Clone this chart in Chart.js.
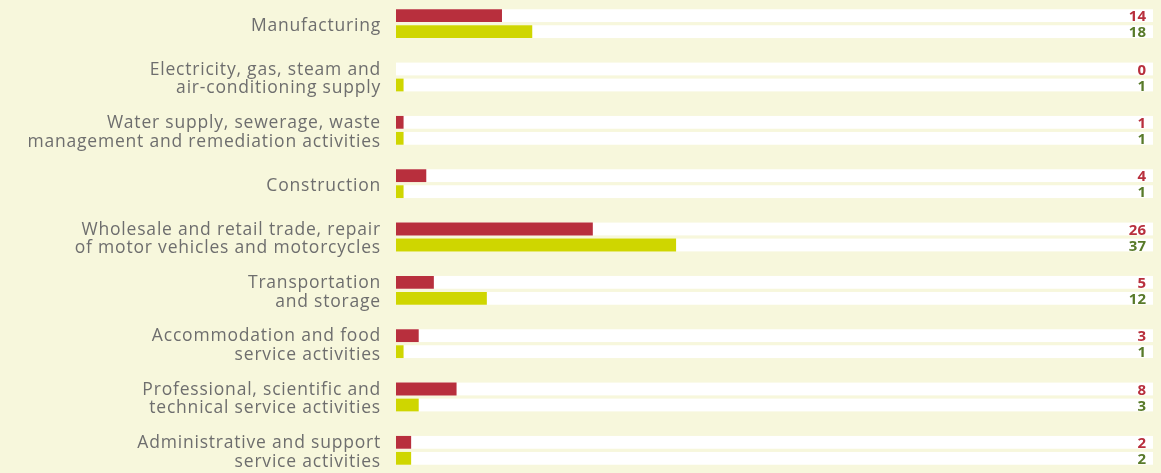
<!DOCTYPE html>
<html>
<head>
<meta charset="utf-8">
<script src="https://cdn.jsdelivr.net/npm/chart.js@4"></script>
<style>
  html, body { margin: 0; padding: 0; background: #f7f7dc; overflow: hidden; }
  #wrap { position: absolute; left: 0; top: -3px; width: 1161px; height: 480px; }
</style>
</head>
<body>
<div id="wrap"><canvas id="grafico"></canvas></div>
<script>
// categorias (rótulos em duas linhas quando necessário)
const categorias = [
    ['Manufacturing'],
    ['Electricity, gas, steam and', 'air-conditioning supply'],
    ['Water supply, sewerage, waste', 'management and remediation activities'],
    ['Construction'],
    ['Wholesale and retail trade, repair', 'of motor vehicles and motorcycles'],
    ['Transportation', 'and storage'],
    ['Accommodation and food', 'service activities'],
    ['Professional, scientific and', 'technical service activities'],
    ['Administrative and support', 'service activities']
];

// séries
const valoresVermelho = [14, 0, 1, 4, 26, 5, 3, 8, 2];
const valoresAmarelo = [18, 1, 1, 1, 37, 12, 1, 3, 2];
const maximoEscala = 100;

const corVermelho = '#b82f3d';
const corAmarelo = '#cfd600';
const corTextoVermelho = '#b82f3d';
const corTextoVerde = '#587a2a';

// fundo branco atrás de cada barra + valores à direita
const pluginTrilhos = {
    id: 'trilhos',
    beforeDraw(chart) {
        // o texto da referência é mais espaçado
        chart.ctx.letterSpacing = '0.8px';
    },
    afterDraw(chart) {
        chart.ctx.letterSpacing = '0px';
    },
    beforeDatasetsDraw(chart) {
        const ctx = chart.ctx;
        const x = chart.scales.x;
        ctx.save();
        ctx.fillStyle = '#ffffff';
        chart.data.datasets.forEach((ds, i) => {
            const meta = chart.getDatasetMeta(i);
            meta.data.forEach(bar => {
                const h = bar.height;
                ctx.fillRect(x.getPixelForValue(0), bar.y - h / 2, x.getPixelForValue(maximoEscala) - x.getPixelForValue(0), h);
            });
        });
        ctx.restore();
    },
    afterDatasetsDraw(chart) {
        const ctx = chart.ctx;
        ctx.save();
        ctx.letterSpacing = '0px';
        ctx.font = 'bold 15px "Open Sans"';
        ctx.textAlign = 'right';
        ctx.textBaseline = 'middle';
        chart.data.datasets.forEach((ds, i) => {
            const meta = chart.getDatasetMeta(i);
            ctx.fillStyle = i === 0 ? corTextoVermelho : corTextoVerde;
            meta.data.forEach((bar, j) => {
                ctx.fillText(String(ds.data[j]), 1146, bar.y + 1.5);
            });
        });
        ctx.restore();
    }
};

const ctx = document.getElementById('grafico').getContext('2d');

const config = {
    type: 'bar',
    data: {
        labels: categorias,
        datasets: [{
            label: 'A',
            data: valoresVermelho,
            backgroundColor: corVermelho
        }, {
            label: 'B',
            data: valoresAmarelo,
            backgroundColor: corAmarelo
        }]
    },
    options: {
        indexAxis: 'y',
        responsive: true,
        maintainAspectRatio: false,
        animation: false,
        categoryPercentage: 0.6,
        barPercentage: 0.8,
        layout: { padding: { left: 0, top: 0, bottom: 0, right: 8 } },
        plugins: {
            legend: { display: false },
            tooltip: { enabled: false }
        },
        scales: {
            x: {
                display: false,
                min: 0,
                max: maximoEscala
            },
            y: {
                afterFit(scale) {
                    scale.width = 396;
                    scale.paddingTop = 0;
                    scale.paddingBottom = 0;
                },
                border: { display: false },
                grid: { display: false, drawTicks: false },
                ticks: {
                    padding: 15,
                    labelOffset: 2,
                    color: '#6e6e6e',
                    font: { family: 'Open Sans', size: 17.5, lineHeight: 1.07 }
                }
            }
        }
    },
    plugins: [pluginTrilhos]
};

let graficoBarras = new Chart(ctx, config);
</script>
</body>
</html>
